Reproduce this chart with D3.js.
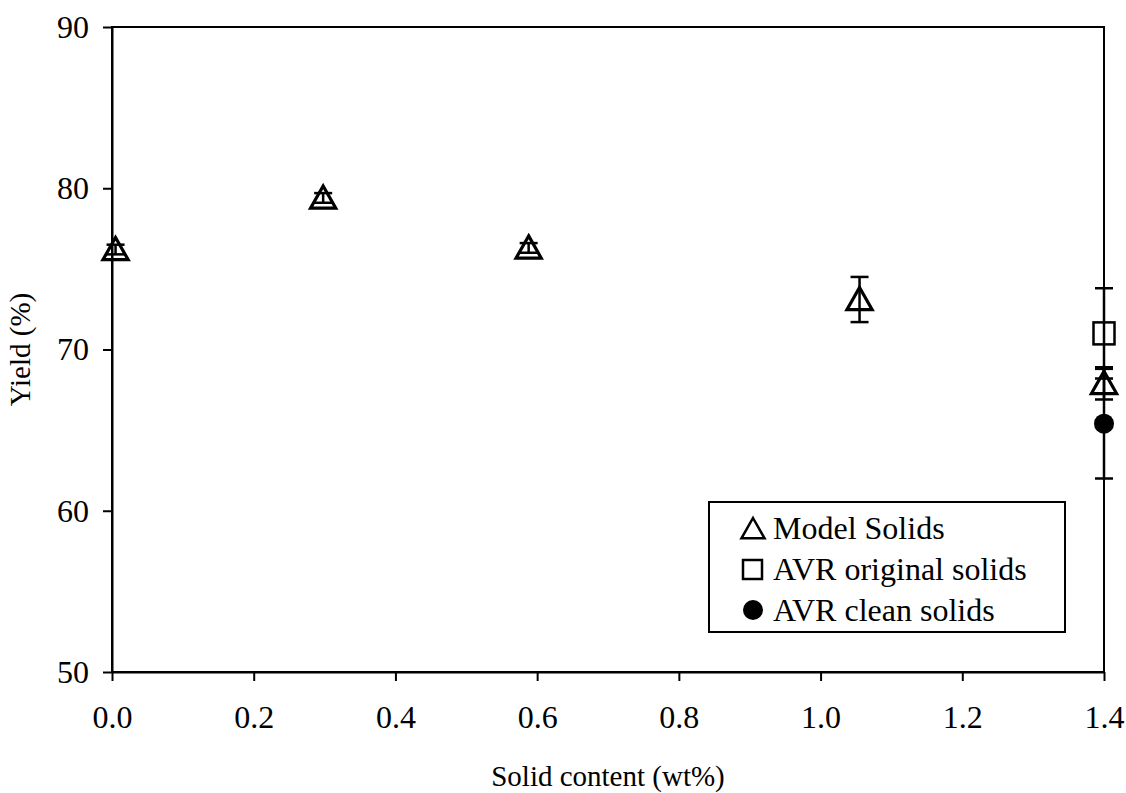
<!DOCTYPE html>
<html lang="en">
<head>
<meta charset="UTF-8">
<title>Yield vs solid content</title>
<script src="https://d3js.org/d3.v7.min.js"></script>
<style>
    body { margin: 0; background: #fff; }
    svg text { font-family: 'Liberation Serif', 'Times New Roman', serif; fill: #000; }
</style>
</head>
<body>
<div id="chart"></div>
<script>
// data
const modelX = [0.005, 0.298, 0.588, 1.055, 1.40];
const modelY = [76.2, 79.4, 76.3, 73.1, 67.9];
const modelErr = [0.3, 0.3, 0.3, 1.4, 1.0];

const origX = [1.40];
const origY = [71.0];
const origErr = [2.8];

const cleanX = [1.40];
const cleanY = [65.4];
const cleanErr = [3.4];

const xTicks = [0.0, 0.2, 0.4, 0.6, 0.8, 1.0, 1.2, 1.4];
const yTicks = [50, 60, 70, 80, 90];
const legendLabels = ['Model Solids', 'AVR original solids', 'AVR clean solids'];

const W = 1126, H = 793;
const margin = { top: 27, right: 22, bottom: 121, left: 112 };
const width = W - margin.left - margin.right,
      height = H - margin.top - margin.bottom;

const svg = d3.select('#chart').append('svg')
    .attr('width', W).attr('height', H);

const g = svg.append('g')
    .attr('transform', `translate(${margin.left},${margin.top})`);

const x = d3.scaleLinear().domain([0, 1.4]).range([0, width]);
const y = d3.scaleLinear().domain([50, 90]).range([height, 0]);

// frame
g.append('rect')
    .attr('width', width).attr('height', height)
    .attr('fill', 'none').attr('stroke', '#000').attr('stroke-width', 2);

const xAxis = g.append('g')
    .attr('transform', `translate(0,${height})`)
    .call(d3.axisBottom(x).tickValues(xTicks).tickFormat(d3.format('.1f'))
        .tickSizeOuter(0).tickSizeInner(9).tickPadding(24));

const yAxis = g.append('g')
    .call(d3.axisLeft(y).tickValues(yTicks).tickFormat(d3.format('d'))
        .tickSizeOuter(0).tickSizeInner(9).tickPadding(14));

[xAxis, yAxis].forEach(a => {
    a.attr('font-family', null);
    a.selectAll('path').attr('stroke', '#000').attr('stroke-width', 2);
    a.selectAll('line').attr('stroke', '#000').attr('stroke-width', 2);
    a.selectAll('text').style('font-size', '32px').attr('fill', '#000');
});

// axis titles
g.append('text')
    .attr('x', width / 2).attr('y', height + 114)
    .attr('text-anchor', 'middle')
    .style('font-size', '29px')
    .text('Solid content (wt%)');

g.append('text')
    .attr('transform', `translate(${-82},${height / 2}) rotate(-90)`)
    .attr('text-anchor', 'middle')
    .style('font-size', '29px')
    .text('Yield (%)');

// marker shapes
const triPath = s => `M0,${-s}L${s * 1.05},${s * 0.85}L${-s * 1.05},${s * 0.85}Z`;

function errorBars(xs, ys, es) {
    const cap = 9;
    xs.forEach((xv, i) => {
        const px = x(xv), top = y(ys[i] + es[i]), bot = y(ys[i] - es[i]);
        const eb = g.append('g').attr('stroke', '#000').attr('stroke-width', 2.5);
        eb.append('line').attr('x1', px).attr('x2', px).attr('y1', top).attr('y2', bot);
        eb.append('line').attr('x1', px - cap).attr('x2', px + cap).attr('y1', top).attr('y2', top);
        eb.append('line').attr('x1', px - cap).attr('x2', px + cap).attr('y1', bot).attr('y2', bot);
    });
}

errorBars(modelX, modelY, modelErr);
errorBars(origX, origY, origErr);
errorBars(cleanX, cleanY, cleanErr);

g.selectAll('.tri').data(modelX).enter().append('path')
    .attr('class', 'tri')
    .attr('transform', (d, i) => `translate(${x(d)},${y(modelY[i])})`)
    .attr('d', triPath(12))
    .attr('fill', 'none').attr('stroke', '#000').attr('stroke-width', 3.2);

g.selectAll('.sq').data(origX).enter().append('rect')
    .attr('class', 'sq')
    .attr('x', d => x(d) - 10.5)
    .attr('y', (d, i) => y(origY[i]) - 11)
    .attr('width', 21).attr('height', 22)
    .attr('fill', 'none').attr('stroke', '#000').attr('stroke-width', 2.5);

g.selectAll('.dot').data(cleanX).enter().append('circle')
    .attr('class', 'dot')
    .attr('cx', d => x(d))
    .attr('cy', (d, i) => y(cleanY[i]))
    .attr('r', 10)
    .attr('fill', '#000');

// legend
const lg = svg.append('g').attr('transform', 'translate(709,502)');
lg.append('rect')
    .attr('width', 356).attr('height', 130)
    .attr('fill', '#fff').attr('stroke', '#000').attr('stroke-width', 2);

const rowY = [26, 67, 108];
lg.append('path')
    .attr('transform', `translate(44,${rowY[0] + 1})`)
    .attr('d', triPath(11))
    .attr('fill', 'none').attr('stroke', '#000').attr('stroke-width', 2.5);
lg.append('rect')
    .attr('x', 34).attr('y', rowY[1] - 9).attr('width', 19).attr('height', 19)
    .attr('fill', 'none').attr('stroke', '#000').attr('stroke-width', 2.5);
lg.append('circle')
    .attr('cx', 44).attr('cy', rowY[2]).attr('r', 10).attr('fill', '#000');

lg.selectAll('.lt').data(legendLabels).enter().append('text')
    .attr('class', 'lt')
    .attr('x', 64)
    .attr('y', (d, i) => rowY[i])
    .attr('dy', '0.35em')
    .style('font-size', '32px')
    .text(d => d);
</script>
</body>
</html>
